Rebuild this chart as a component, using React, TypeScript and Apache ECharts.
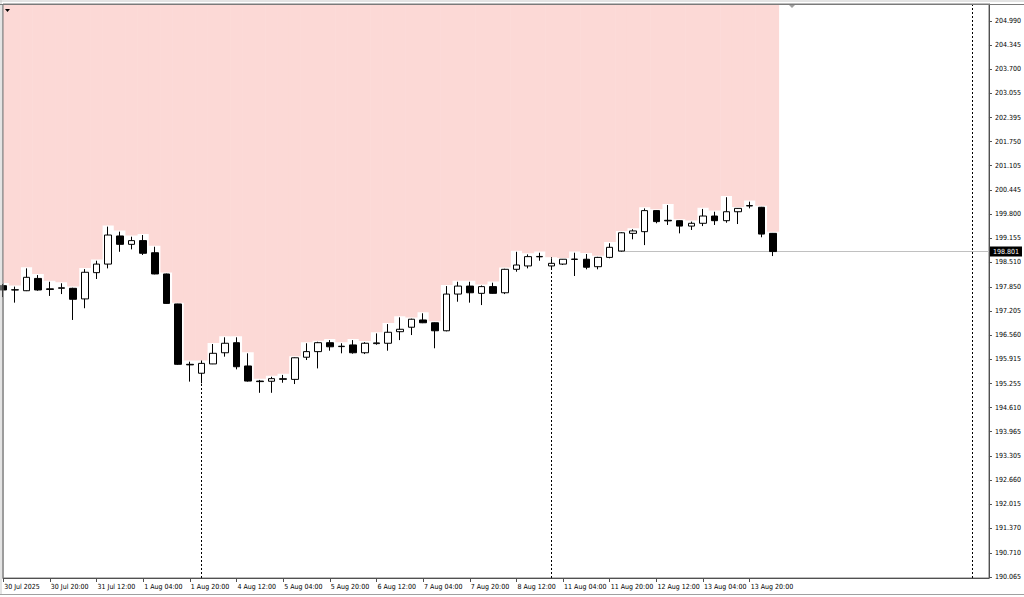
import React, { useEffect, useRef } from "react";
import * as echarts from "echarts";

// H4 candles, 30 Jul 2025 04:00 .. 14 Aug 2025 04:00
const OPEN = [
  197.885, 197.775, 197.75, 198.08, 197.8, 197.815, 197.815, 197.53, 198.235, 198.465,
  199.22, 198.995, 199.095, 198.77, 198.2, 197.395, 195.775, 195.535, 195.785, 196.085,
  196.355, 195.73, 195.325, 195.32, 195.37, 195.37, 195.965, 196.115, 196.355, 196.25,
  196.295, 196.085, 196.33, 196.34, 196.65, 196.77, 196.965, 196.89, 196.675, 197.66,
  197.875, 197.68, 197.86, 197.695, 198.325, 198.415, 198.66, 198.415, 198.465, 198.59,
  198.595, 198.395, 198.645, 198.815, 199.29, 199.335, 199.9, 199.64, 199.63, 199.485,
  199.56, 199.755, 199.63, 199.87, 200.025, 199.99, 199.29,
];
const CLOSE = [
  197.77, 197.77, 198.11, 197.77, 197.785, 197.83, 197.52, 198.245, 198.465, 199.245,
  198.995, 199.095, 198.755, 198.2, 197.41, 195.775, 195.76, 195.8, 196.07, 196.34,
  195.71, 195.325, 195.31, 195.39, 195.39, 195.95, 196.115, 196.355, 196.245, 196.26,
  196.085, 196.34, 196.35, 196.635, 196.715, 196.985, 196.89, 196.675, 197.66, 197.875,
  197.695, 197.86, 197.68, 198.325, 198.44, 198.665, 198.67, 198.485, 198.595, 198.6,
  198.38, 198.645, 198.915, 199.305, 199.355, 199.9, 199.605, 199.625, 199.485, 199.56,
  199.755, 199.63, 199.87, 199.96, 200.035, 199.27, 198.801,
];
const LOW = [
  197.58, 197.43, 197.74, 197.75, 197.61, 197.66, 196.965, 197.28, 198.065, 198.35,
  198.795, 198.86, 198.71, 198.19, 197.4, 195.76, 195.31, 195.265, 195.78, 195.98,
  195.64, 195.31, 195.01, 195.01, 195.28, 195.245, 195.89, 195.665, 196.14, 196.07,
  196.06, 196.05, 196.3, 196.14, 196.425, 196.56, 196.88, 196.205, 196.66, 197.455,
  197.43, 197.365, 197.67, 197.66, 198.26, 198.35, 198.555, 198.305, 198.44, 198.145,
  198.325, 198.325, 198.62, 198.8, 199.13, 198.975, 199.56, 199.515, 199.29, 199.38,
  199.485, 199.515, 199.575, 199.54, 199.96, 199.185, 198.68,
];
const HIGH = [
  197.93, 197.86, 198.35, 198.17, 197.99, 197.95, 197.83, 198.33, 198.555, 199.47,
  199.335, 199.2, 199.245, 198.93, 198.21, 197.4, 195.845, 195.85, 196.32, 196.5,
  196.5, 196.07, 195.355, 195.44, 195.49, 195.96, 196.34, 196.38, 196.425, 196.34,
  196.425, 196.37, 196.605, 196.855, 197.035, 197.0, 197.145, 196.9, 197.875, 197.99,
  197.99, 197.89, 197.965, 198.34, 198.795, 198.725, 198.77, 198.62, 198.6, 198.77,
  198.735, 198.66, 199.025, 199.32, 199.4, 199.96, 199.91, 200.05, 199.64, 199.605,
  199.945, 199.87, 200.26, 199.97, 200.14, 200.0, 199.3,
];

const X_LABELS = [
  "30 Jul 2025", "30 Jul 20:00", "31 Jul 12:00", "1 Aug 04:00", "1 Aug 20:00",
  "4 Aug 12:00", "5 Aug 04:00", "5 Aug 20:00", "6 Aug 12:00", "7 Aug 04:00",
  "7 Aug 20:00", "8 Aug 12:00", "11 Aug 04:00", "11 Aug 20:00", "12 Aug 12:00",
  "13 Aug 04:00", "13 Aug 20:00",
];
const X_LABEL_STEP = 4;

const Y_TICKS = [
  190.065, 190.71, 191.37, 192.015, 192.66, 193.305, 193.965, 194.61, 195.255, 195.915,
  196.56, 197.205, 197.85, 198.51, 199.155, 199.8, 200.445, 201.105, 201.75, 202.395,
  203.055, 203.7, 204.345, 204.99,
];

const BID = 198.801;
const WEEK_SEPARATORS = [17, 47];
const SHIFT_LINE = 83.06;
const BID_LINE_START = 52.7;

const Y_MIN = 190.039;
const Y_MAX = 205.446;
const X_MIN = -0.017;
const X_MAX = 84.513;
const PAD = 0.03;

const PINK = "#fcd9d6";
const FONT = '"DejaVu Sans Condensed", "Liberation Sans", sans-serif';

export default function App() {
  const ref = useRef<HTMLDivElement>(null);

  useEffect(() => {
    if (!ref.current) return;
    const chart = echarts.init(ref.current, undefined, { renderer: "svg" });

    const xTickVals = X_LABELS.map((_, i) => i * X_LABEL_STEP);
    const candles = OPEN.map((o, i) => [i, o, CLOSE[i], LOW[i], HIGH[i]]);
    const pinkEdge = HIGH.map((h, i) => [i, h + PAD]);

    const option: any = {
      animation: false,
      backgroundColor: "#ffffff",
      grid: {
        left: 3,
        top: 4,
        right: 32,
        bottom: 19,
        show: true,
        backgroundColor: "#ffffff",
        borderColor: "#7a7a7a",
        borderWidth: 1,
      },
      xAxis: {
        type: "value",
        min: X_MIN,
        max: X_MAX,
        position: "bottom",
        axisLine: { show: true, onZero: false, lineStyle: { color: "#505050", width: 1 } },
        axisTick: {
          show: true,
          length: 4,
          customValues: xTickVals,
          lineStyle: { color: "#505050" },
        },
        axisLabel: {
          customValues: xTickVals,
          formatter: (v: number) => X_LABELS[Math.round(v / X_LABEL_STEP)] ?? "",
          align: "left",
          margin: 5,
          padding: [0, 0, 0, 1],
          fontSize: 7,
          color: "#000",
          fontFamily: FONT,
        },
        splitLine: { show: false },
      },
      yAxis: {
        type: "value",
        position: "right",
        min: Y_MIN,
        max: Y_MAX,
        axisLine: { show: true, onZero: false, lineStyle: { color: "#505050", width: 1 } },
        axisTick: {
          show: true,
          length: 3,
          customValues: Y_TICKS,
          lineStyle: { color: "#505050" },
        },
        axisLabel: {
          customValues: Y_TICKS,
          formatter: (v: number) => v.toFixed(3),
          margin: 6,
          fontSize: 7,
          color: "#000",
          fontFamily: FONT,
        },
        splitLine: { show: false },
      },
      series: [
        {
          type: "custom",
          data: pinkEdge,
          silent: true,
          z: 5,
          renderItem: (params: any, api: any) => {
            const p = api.coord([api.value(0), api.value(1)]);
            const w = api.size([1, 0])[0];
            const cs = params.coordSys;
            const shape = echarts.graphic.clipRectByRect(
              { x: p[0] - w / 2 - 0.25, y: cs.y, width: w + 0.5, height: p[1] - cs.y },
              { x: cs.x, y: cs.y, width: cs.width, height: cs.height }
            );
            if (!shape) return null;
            return { type: "rect", shape, style: { fill: PINK } };
          },
        },
        {
          type: "candlestick",
          data: candles,
          barWidth: 7,
          z: 10,
          itemStyle: {
            color: "#ffffff",
            color0: "#000000",
            borderColor: "#000000",
            borderColor0: "#000000",
            borderColorDoji: "#000000",
            borderWidth: 1,
          },
        },
        {
          type: "line",
          data: [],
          clip: false,
          silent: true,
          markLine: {
            z: 3,
            symbol: ["none", "none"],
            silent: true,
            animation: false,
            data: [
              [
                {
                  coord: [BID_LINE_START, BID],
                  lineStyle: { color: "#c0c0c0", width: 1, type: "solid" },
                  label: {
                    show: true,
                    position: "end",
                    distance: 1,
                    formatter: BID.toFixed(3),
                    color: "#ffffff",
                    backgroundColor: "#000000",
                    padding: [2, 3, 1, 3],
                    fontSize: 7,
                    fontFamily: FONT,
                  },
                },
                { coord: [X_MAX, BID] },
              ],
              ...WEEK_SEPARATORS.map((k) => ({
                xAxis: k,
                lineStyle: { color: "#000000", width: 1, type: [2, 2] },
                label: { show: false },
              })),
              {
                xAxis: SHIFT_LINE,
                lineStyle: { color: "#000000", width: 1, type: [2, 2] },
                label: { show: false },
              },
            ],
          },
        },
      ],
      graphic: [
        { type: "line", z: 100, shape: { x1: 0, y1: 1, x2: 1024, y2: 1 }, style: { stroke: "#c8c8c8", lineWidth: 1 } },
        { type: "line", z: 100, shape: { x1: 1, y1: 0, x2: 1, y2: 595 }, style: { stroke: "#c8c8c8", lineWidth: 1 } },
        { type: "line", z: 100, shape: { x1: 0, y1: 4.5, x2: 1024, y2: 4.5 }, style: { stroke: "#7a7a7a", lineWidth: 1 } },
        { type: "line", z: 100, shape: { x1: 3, y1: 4, x2: 3, y2: 578 }, style: { stroke: "#7a7a7a", lineWidth: 1 } },
        { type: "line", z: 100, shape: { x1: 0, y1: 594.5, x2: 1024, y2: 594.5 }, style: { stroke: "#a0a0a0", lineWidth: 1 } },
        { type: "polygon", z: 100, shape: { points: [[5, 9], [10, 9], [7.5, 12]] }, style: { fill: "#000000" } },
        { type: "polygon", z: 100, shape: { points: [[789, 5], [795, 5], [792, 8]] }, style: { fill: "#a0a0a0" } },
      ],
    };

    chart.setOption(option);
    return () => chart.dispose();
  }, []);

  return (
    <div
      ref={ref}
      style={{ position: "fixed", left: 0, top: 0, width: 1024, height: 597, background: "#fff" }}
    />
  );
}
